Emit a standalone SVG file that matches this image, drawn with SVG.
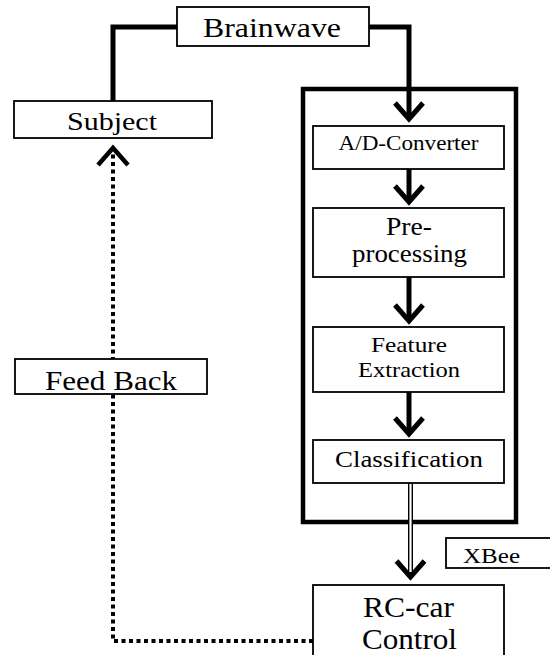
<svg xmlns="http://www.w3.org/2000/svg" width="550" height="655" viewBox="0 0 550 655">
  <style>
    .box { fill: #fff; stroke: #000; stroke-width: 1.8; }
    .thick { fill: none; stroke: #000; stroke-width: 5; stroke-linejoin: miter; }
    .dot { fill: none; stroke: #000; stroke-width: 4; stroke-dasharray: 4 3.5; }
  </style>
  <defs>
    <marker id="vhead" markerUnits="userSpaceOnUse" viewBox="-22 -18 28 36" markerWidth="28" markerHeight="36" refX="0" refY="0" orient="auto" overflow="visible">
      <path d="M-16,-14 L0,0 L-16,14" fill="none" stroke="#000" stroke-width="5" stroke-linejoin="miter" stroke-dasharray="none"/>
    </marker>
    <marker id="vhead2" markerUnits="userSpaceOnUse" viewBox="-22 -18 28 36" markerWidth="28" markerHeight="36" refX="0" refY="0" orient="auto" overflow="visible">
      <path d="M-17,-15 L0,0 L-17,15" fill="none" stroke="#000" stroke-width="4.5" stroke-linejoin="miter" stroke-dasharray="none"/>
    </marker>
  </defs>
  <rect x="0" y="0" width="550" height="655" fill="#fff"/>

  <g id="processing-unit">
    <rect x="303" y="89" width="213" height="433" fill="none" stroke="#000" stroke-width="4.5"/>
  </g>

  <g id="connectors">
    <path class="thick" d="M113,101 V27 H177"/>
    <path class="thick" d="M369,27 H409 V119" marker-end="url(#vhead)"/>
    <path class="thick" d="M409,169 V202" marker-end="url(#vhead)"/>
    <path class="thick" d="M409,277 V321" marker-end="url(#vhead)"/>
    <path class="thick" d="M409,392 V434" marker-end="url(#vhead)"/>
    <path d="M410.5,483 V577" fill="none" stroke="#000" stroke-width="5" marker-end="url(#vhead)"/>
    <path d="M410.5,483 V572" fill="none" stroke="#fff" stroke-width="2.2"/>
    <path class="dot" d="M313,641 H113 V148" marker-end="url(#vhead2)"/>
  </g>

  <g font-family="Liberation Serif, DejaVu Serif, serif" fill="#000" text-anchor="middle">
  <g id="brainwave">
    <rect class="box" x="177" y="7" width="192" height="39"/>
    <text x="272" y="37" font-size="28" textLength="138" lengthAdjust="spacingAndGlyphs">Brainwave</text>
  </g>
  <g id="subject">
    <rect class="box" x="14" y="101" width="198" height="37"/>
    <text x="112" y="130" font-size="26" textLength="90" lengthAdjust="spacingAndGlyphs">Subject</text>
  </g>
  <g id="ad-converter">
    <rect class="box" x="313" y="126" width="191" height="43"/>
    <text x="408.5" y="150" font-size="20" textLength="140" lengthAdjust="spacingAndGlyphs">A/D-Converter</text>
  </g>
  <g id="preprocessing">
    <rect class="box" x="313" y="208" width="191" height="69"/>
    <text x="409" y="235" font-size="25" textLength="46" lengthAdjust="spacingAndGlyphs">Pre-</text>
    <text x="409.5" y="262" font-size="25" textLength="115" lengthAdjust="spacingAndGlyphs">processing</text>
  </g>
  <g id="feature-extraction">
    <rect class="box" x="313" y="327" width="191" height="65"/>
    <text x="409" y="352" font-size="22" textLength="76" lengthAdjust="spacingAndGlyphs">Feature</text>
    <text x="409" y="377" font-size="22" textLength="102" lengthAdjust="spacingAndGlyphs">Extraction</text>
  </g>
  <g id="classification">
    <rect class="box" x="313" y="440" width="191" height="43"/>
    <text x="409" y="467" font-size="24" textLength="148" lengthAdjust="spacingAndGlyphs">Classification</text>
  </g>
  <g id="feed-back">
    <rect class="box" x="15" y="359" width="192" height="35"/>
    <text x="111" y="390" font-size="27" textLength="132" lengthAdjust="spacingAndGlyphs">Feed Back</text>
  </g>
  <g id="xbee">
    <rect class="box" x="446" y="538" width="120" height="30"/>
    <text x="463" y="563" font-size="22" text-anchor="start" textLength="57" lengthAdjust="spacingAndGlyphs">XBee</text>
  </g>
  <g id="rc-car-control">
    <rect class="box" x="313" y="585" width="191" height="100"/>
    <text x="408.5" y="617" font-size="30" textLength="91" lengthAdjust="spacingAndGlyphs">RC-car</text>
    <text x="409.5" y="649" font-size="30" textLength="95" lengthAdjust="spacingAndGlyphs">Control</text>
  </g>
  </g>
</svg>
